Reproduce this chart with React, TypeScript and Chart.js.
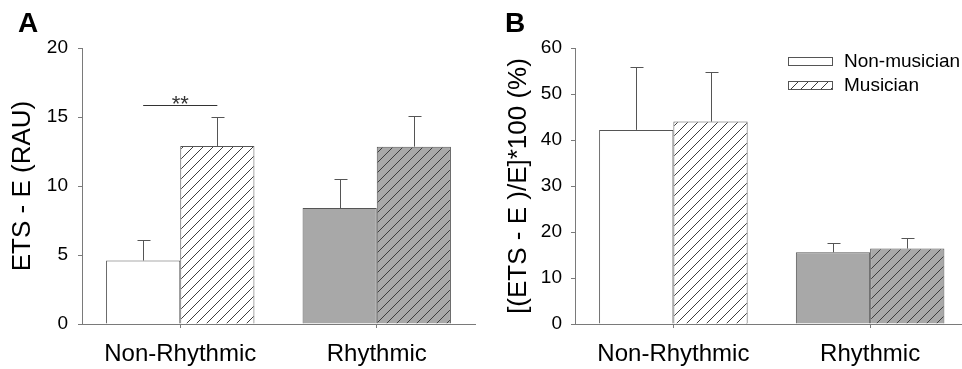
import React, { useEffect, useRef } from "react";
import { Chart, registerables } from "chart.js";

Chart.register(...registerables);

const FONT = "'Liberation Sans', Arial, Helvetica, sans-serif";

// ---- data ----
const categories = ["Non-Rhythmic", "Rhythmic"];
const groupNames = ["Non-musician", "Musician"];

const aNonMusician = [4.6, 8.4];
const aNonMusicianErr = [1.5, 2.1];
const aMusician = [12.9, 12.85];
const aMusicianErr = [2.1, 2.25];
const aTicks = [0, 5, 10, 15, 20];
const aSignificanceLevel = 15.9;
const aSignificanceLabel = "**";
const aTitle = "ETS - E (RAU)";

const bNonMusician = [42.2, 15.6];
const bNonMusicianErr = [13.6, 1.9];
const bMusician = [44.0, 16.4];
const bMusicianErr = [10.7, 2.4];
const bTicks = [0, 10, 20, 30, 40, 50, 60];
const bTitle = "[(ETS - E )/E]*100 (%)";

// ---- styles ----
const WHITE = "#ffffff";
const GRAY = "#a8a8a8";
const BORDER = "#555555";
const AXIS = "#7a7a7a";
const HATCH = "#3c3c3c";

function hatch(bg: string): CanvasPattern {
  const s = 10;
  const c = document.createElement("canvas");
  c.width = s;
  c.height = s;
  const x = c.getContext("2d")!;
  x.fillStyle = bg;
  x.fillRect(0, 0, s, s);
  x.strokeStyle = HATCH;
  x.lineWidth = 1;
  x.beginPath();
  x.moveTo(-1, s + 1);
  x.lineTo(s + 1, -1);
  x.moveTo(-1, 1);
  x.lineTo(1, -1);
  x.moveTo(s - 1, s + 1);
  x.lineTo(s + 1, s - 1);
  x.stroke();
  return x.createPattern(c, "repeat")!;
}

const errorBars = {
  id: "errorBars",
  afterDatasetsDraw(chart: any) {
    const ctx = chart.ctx;
    const y = chart.scales.y;
    chart.data.datasets.forEach((ds: any, i: number) => {
      const meta = chart.getDatasetMeta(i);
      meta.data.forEach((bar: any, j: number) => {
        const v = ds.data[j];
        const e = ds.errors[j];
        const yt = Math.round(y.getPixelForValue(v + e)) + 0.5;
        const yb = bar.y;
        const x = Math.round(bar.x) + 0.5;
        ctx.save();
        ctx.strokeStyle = BORDER;
        ctx.lineWidth = 1;
        ctx.beginPath();
        ctx.moveTo(x, yb);
        ctx.lineTo(x, yt);
        ctx.moveTo(x - 6, yt);
        ctx.lineTo(x + 7, yt);
        ctx.stroke();
        ctx.restore();
      });
    });
  },
};

const significance = {
  id: "significance",
  afterDatasetsDraw(chart: any) {
    const ctx = chart.ctx;
    const y = chart.scales.y;
    const b0 = chart.getDatasetMeta(0).data[0];
    const b1 = chart.getDatasetMeta(1).data[0];
    const py = Math.round(y.getPixelForValue(aSignificanceLevel)) + 0.5;
    ctx.save();
    ctx.strokeStyle = "#333";
    ctx.lineWidth = 1;
    ctx.beginPath();
    ctx.moveTo(b0.x, py);
    ctx.lineTo(b1.x, py);
    ctx.stroke();
    ctx.fillStyle = "#333";
    ctx.font = `22px ${FONT}`;
    ctx.textAlign = "center";
    ctx.textBaseline = "alphabetic";
    ctx.fillText(aSignificanceLabel, (b0.x + b1.x) / 2, py + 5);
    ctx.restore();
  },
};

const legendPlugin = {
  id: "customLegend",
  afterDraw(chart: any) {
    const ctx = chart.ctx;
    const ds = chart.data.datasets;
    const x0 = 308;
    const rows = [57, 81];
    ctx.save();
    ds.forEach((d: any, i: number) => {
      const top = rows[i];
      ctx.fillStyle = Array.isArray(d.backgroundColor) ? d.backgroundColor[0] : d.backgroundColor;
      ctx.fillRect(x0, top, 45, 9);
      ctx.strokeStyle = BORDER;
      ctx.lineWidth = 1;
      ctx.strokeRect(x0 + 0.5, top + 0.5, 44, 8);
      ctx.fillStyle = "#000";
      ctx.font = `19px ${FONT}`;
      ctx.textAlign = "left";
      ctx.textBaseline = "middle";
      ctx.fillText(d.label, x0 + 56, top + 4.5);
    });
    ctx.restore();
  },
};

function makeConfig(opts: {
  nm: number[];
  nmErr: number[];
  mu: number[];
  muErr: number[];
  ticks: number[];
  title: string;
  leftW: number;
  padRight: number;
  titlePad: number;
  tickPad: number;
  plugins: any[];
}): any {
  const max = opts.ticks[opts.ticks.length - 1];
  return {
    type: "bar",
    data: {
      labels: categories,
      datasets: [
        {
          label: groupNames[0],
          data: opts.nm,
          errors: opts.nmErr,
          backgroundColor: [WHITE, GRAY],
          borderColor: BORDER,
          borderWidth: 1,
          categoryPercentage: 0.755,
          barPercentage: 1.0,
        },
        {
          label: groupNames[1],
          data: opts.mu,
          errors: opts.muErr,
          backgroundColor: [hatch(WHITE), hatch(GRAY)],
          borderColor: BORDER,
          borderWidth: 1,
          categoryPercentage: 0.755,
          barPercentage: 1.0,
        },
      ],
    },
    options: {
      responsive: false,
      animation: false,
      devicePixelRatio: 1,
      layout: { padding: { top: 48, right: opts.padRight, left: 0, bottom: 0 } },
      plugins: {
        legend: { display: false },
        tooltip: { enabled: false },
        title: { display: false },
      },
      scales: {
        x: {
          grid: {
            offset: false,
            drawOnChartArea: false,
            drawTicks: true,
            tickLength: 4,
            color: AXIS,
          },
          border: { display: true, color: AXIS, width: 1 },
          ticks: { font: { size: 24, family: FONT }, color: "#000", padding: 12 },
          afterFit: (s: any) => {
            s.height = 45;
          },
        },
        y: {
          min: 0,
          max,
          afterBuildTicks: (s: any) => {
            s.ticks = opts.ticks.map((v) => ({ value: v }));
          },
          grid: {
            drawOnChartArea: false,
            drawTicks: true,
            tickLength: 4,
            color: AXIS,
          },
          border: { display: true, color: AXIS, width: 1 },
          ticks: { font: { size: 19, family: FONT }, color: "#000", padding: opts.tickPad },
          title: {
            display: true,
            text: opts.title,
            color: "#000",
            font: { size: 26, family: FONT },
            padding: { top: opts.titlePad, bottom: 0 },
          },
          afterFit: (s: any) => {
            s.width = opts.leftW;
          },
        },
      },
    },
    plugins: [errorBars, ...opts.plugins],
  };
}

export default function App() {
  const refA = useRef<HTMLCanvasElement>(null);
  const refB = useRef<HTMLCanvasElement>(null);

  useEffect(() => {
    Chart.defaults.font.family = FONT;
    Chart.defaults.color = "#000";
    const a = new Chart(
      refA.current!,
      makeConfig({
        nm: aNonMusician,
        nmErr: aNonMusicianErr,
        mu: aMusician,
        muErr: aMusicianErr,
        ticks: aTicks,
        title: aTitle,
        leftW: 82,
        padRight: 5,
        titlePad: 7,
        tickPad: 10,
        plugins: [significance],
      })
    );
    const b = new Chart(
      refB.current!,
      makeConfig({
        nm: bNonMusician,
        nmErr: bNonMusicianErr,
        mu: bMusician,
        muErr: bMusicianErr,
        ticks: bTicks,
        title: bTitle,
        leftW: 95,
        padRight: 1.5,
        titlePad: 23,
        tickPad: 9,
        plugins: [legendPlugin],
      })
    );
    return () => {
      a.destroy();
      b.destroy();
    };
  }, []);

  const panelLabel: React.CSSProperties = {
    position: "absolute",
    top: 9,
    fontFamily: FONT,
    fontWeight: "bold",
    fontSize: 28,
    lineHeight: "28px",
    color: "#000",
  };

  return (
    <div
      style={{
        position: "fixed",
        left: 0,
        top: 0,
        width: 962,
        height: 369,
        overflow: "hidden",
        background: "#fff",
      }}
    >
      <canvas
        ref={refA}
        width={480}
        height={369}
        style={{ position: "absolute", left: 0, top: 0, width: 480, height: 369 }}
      />
      <canvas
        ref={refB}
        width={490}
        height={369}
        style={{ position: "absolute", left: 480, top: 0, width: 490, height: 369 }}
      />
      <div style={{ ...panelLabel, left: 18 }}>A</div>
      <div style={{ ...panelLabel, left: 505 }}>B</div>
    </div>
  );
}
